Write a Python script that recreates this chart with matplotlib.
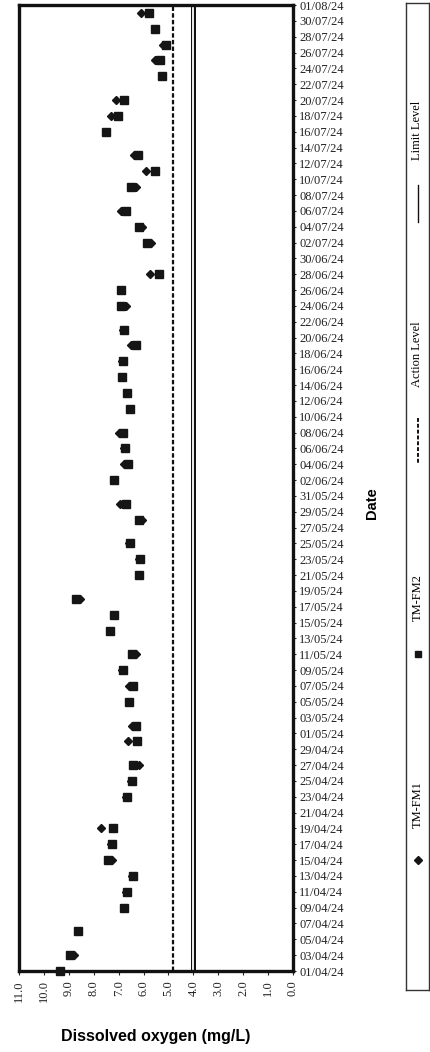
import matplotlib
matplotlib.use("Agg")
import matplotlib.pyplot as plt
import matplotlib.dates as mdates
import numpy as np
import pandas as pd

W, H, DPI = 430, 1052, 100

# sampling dates (both stations share the same days)
dates = ["2024-04-01", "2024-04-03", "2024-04-06", "2024-04-09", "2024-04-11",
         "2024-04-13", "2024-04-15", "2024-04-17", "2024-04-19", "2024-04-23",
         "2024-04-25", "2024-04-27", "2024-04-30", "2024-05-02", "2024-05-05",
         "2024-05-07", "2024-05-09", "2024-05-11", "2024-05-14", "2024-05-16",
         "2024-05-18", "2024-05-21", "2024-05-23", "2024-05-25", "2024-05-28",
         "2024-05-30", "2024-06-02", "2024-06-04", "2024-06-06", "2024-06-08",
         "2024-06-11", "2024-06-13", "2024-06-15", "2024-06-17", "2024-06-19",
         "2024-06-21", "2024-06-24", "2024-06-26", "2024-06-28", "2024-07-02",
         "2024-07-04", "2024-07-06", "2024-07-09", "2024-07-11", "2024-07-13",
         "2024-07-16", "2024-07-18", "2024-07-20", "2024-07-23", "2024-07-25",
         "2024-07-27", "2024-07-29", "2024-07-31"]

tm_fm1 = [9.40, 8.80, 8.65, 6.80, 6.70, 6.45, 7.25, 7.30, 7.70, 6.70,
          6.50, 6.20, 6.63, 6.47, 6.60, 6.59, 6.85, 6.29, 7.35, 7.20,
          8.57, 6.20, 6.18, 6.58, 6.05, 6.93, 7.20, 6.80, 6.77, 6.99,
          6.55, 6.68, 6.87, 6.85, 6.52, 6.82, 6.72, 6.90, 5.75, 5.69,
          6.05, 6.89, 6.29, 5.89, 6.39, 7.50, 7.29, 7.12, 5.27, 5.55,
          5.20, 5.56, 6.09]

tm_fm2 = [9.35, 8.95, 8.63, 6.80, 6.67, 6.43, 7.43, 7.28, 7.23, 6.67,
          6.48, 6.43, 6.27, 6.29, 6.59, 6.43, 6.83, 6.45, 7.33, 7.19,
          8.73, 6.18, 6.16, 6.56, 6.18, 6.72, 7.20, 6.63, 6.75, 6.83,
          6.53, 6.67, 6.85, 6.83, 6.32, 6.80, 6.89, 6.89, 5.38, 5.85,
          6.20, 6.72, 6.49, 5.53, 6.22, 7.49, 7.03, 6.79, 5.25, 5.33,
          5.11, 5.55, 5.78]

action_level = 4.8
limit_level = 4.0

do_ticks = np.arange(0, 11.5, 1.0)
date_start, date_end = "2024-04-01", "2024-08-01"

SERIF = ["Liberation Serif", "DejaVu Serif"]
SANS = ["Liberation Sans", "DejaVu Sans"]


def px(x0, y0, w, h):
    """pixel box (left, top, width, height) -> figure fraction rect"""
    return [x0 / W, 1 - (y0 + h) / H, w / W, h / H]


fig = plt.figure(figsize=(W / DPI, H / DPI), dpi=DPI)
ax = fig.add_axes(px(19, 5, 274, 966))

d = pd.to_datetime(dates)
ax.plot(tm_fm2, d, ls="none", marker="s", ms=5.5, color="#151515", clip_on=False, zorder=3)
ax.plot(tm_fm1, d, ls="none", marker="D", ms=3.8, color="#151515", clip_on=False, zorder=4)

ax.axvline(action_level, color="#111111", lw=1.6, ls=(0, (2.0, 1.0)), zorder=2)
ax.axvline(limit_level, color="#111111", lw=3.6, zorder=2)
ax.axvline(limit_level, color="white", lw=1.3, zorder=2)

ax.set_xlim(11, 0)
ax.set_ylim(pd.Timestamp(date_start), pd.Timestamp(date_end))

ax.set_xticks(do_ticks)
ax.set_xticklabels(["%.1f" % v for v in do_ticks], rotation=90, family=SERIF, fontsize=9)

ytk = pd.date_range(date_start, date_end, freq="2D")
ax.set_yticks(ytk)
ax.yaxis.set_major_formatter(mdates.DateFormatter("%d/%m/%y"))
ax.yaxis.tick_right()
for lab in ax.get_yticklabels():
    lab.set_family(SERIF)
    lab.set_fontsize(9)
ax.tick_params(axis="y", length=2, width=0.8, pad=2.5, colors="#222222")
ax.tick_params(axis="x", length=3, width=0.8, pad=3.5, colors="#222222")

for s in ax.spines.values():
    s.set_linewidth(2.4)
    s.set_color("#111111")

fig.text(156 / W, 1 - 1037 / H, "Dissolved oxygen (mg/L)", ha="center", va="center",
         family=SANS, fontweight="bold", fontsize=11.5)
fig.text(372 / W, 1 - 503 / H, "Date", ha="center", va="center", rotation=90,
         family=SANS, fontweight="bold", fontsize=10.5)

# legend box, drawn by hand because the entries are rotated
lax = fig.add_axes(px(406, 3, 23, 987))
lax.set_xlim(0, 23)
lax.set_ylim(987, 0)
lax.set_xticks([])
lax.set_yticks([])
for s in lax.spines.values():
    s.set_linewidth(1.0)
    s.set_color("#333333")

lx = 11.5
lax.plot([lx], [857], marker="D", ms=3.8, color="#151515")
lax.text(lx, 802, "TM-FM1", rotation=90, ha="center", va="center", family=SERIF, fontsize=9)
lax.plot([lx], [651], marker="s", ms=5, color="#151515")
lax.text(lx, 595, "TM-FM2", rotation=90, ha="center", va="center", family=SERIF, fontsize=9)
lax.plot([lx, lx], [415, 461], color="#111111", lw=1.4, ls=(0, (2.0, 1.0)))
lax.text(lx, 351, "Action Level", rotation=90, ha="center", va="center", family=SERIF, fontsize=9)
lax.plot([lx, lx], [182, 219], color="#111111", lw=1.0)
lax.text(lx, 127, "Limit Level", rotation=90, ha="center", va="center", family=SERIF, fontsize=9)

fig.savefig("out.png", dpi=DPI)
